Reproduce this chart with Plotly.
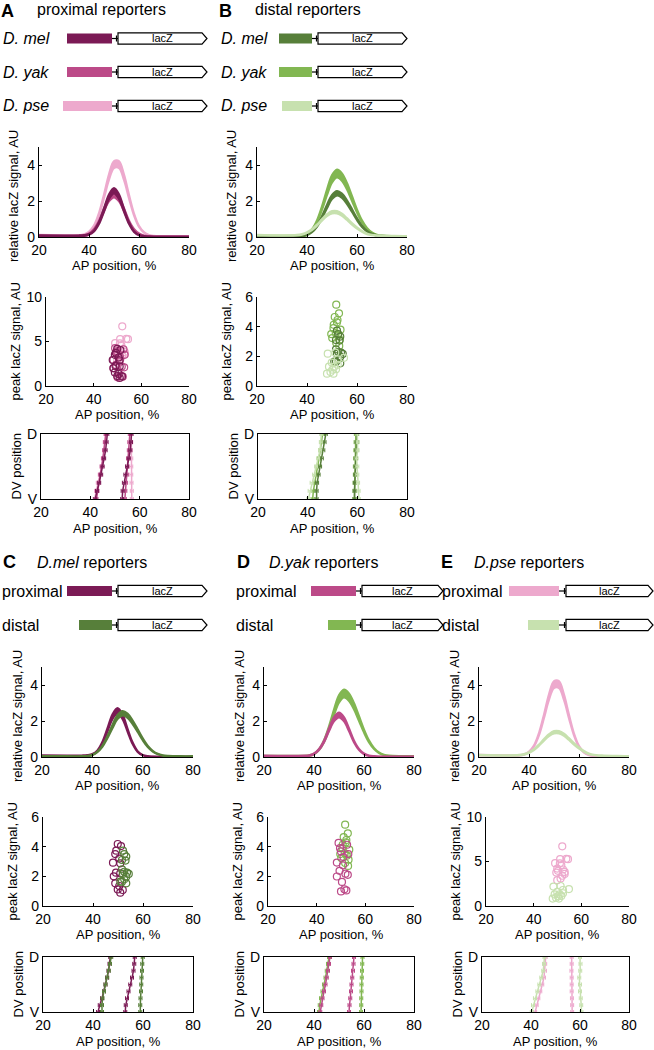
import plotly.graph_objects as go

W, H = 654, 1050
FONT = "Liberation Sans"

COLORS = {
    "mel_p": "#7B1A55", "yak_p": "#BC4A88", "pse_p": "#EDA9CD",
    "mel_d": "#577F3A", "yak_d": "#82B752", "pse_d": "#C7E1AF",
}

# AP profiles of relative lacZ signal (upper / lower edge of each bundle)
AP_X = [20, 30, 36, 38, 40, 42, 44, 46, 48, 50, 52, 54, 56, 58, 60, 62, 64, 66, 68, 70, 75, 80]
mel_p_hi = [0.1, 0.09, 0.09, 0.11, 0.17, 0.37, 0.85, 1.6, 2.38, 2.72, 2.38, 1.58, 0.82, 0.33, 0.12, 0.05, 0.03, 0.02, 0.02, 0.02, 0.02, 0.02]
mel_p_lo = [0.05, 0.05, 0.05, 0.06, 0.12, 0.3, 0.72, 1.4, 2.1, 2.42, 2.1, 1.4, 0.72, 0.28, 0.09, 0.03, 0.01, 0.01, 0.01, 0.01, 0.01, 0.01]
yak_p_hi = [0.08, 0.07, 0.08, 0.1, 0.2, 0.45, 0.92, 1.6, 2.22, 2.47, 2.22, 1.6, 0.92, 0.45, 0.2, 0.09, 0.05, 0.03, 0.03, 0.03, 0.03, 0.03]
yak_p_lo = [0.04, 0.04, 0.04, 0.06, 0.15, 0.38, 0.8, 1.42, 1.98, 2.2, 1.98, 1.42, 0.8, 0.38, 0.15, 0.06, 0.03, 0.01, 0.01, 0.01, 0.01, 0.01]
pse_p_hi = [0.12, 0.1, 0.1, 0.15, 0.3, 0.65, 1.35, 2.38, 3.5, 4.22, 4.22, 3.48, 2.36, 1.32, 0.62, 0.27, 0.12, 0.07, 0.05, 0.05, 0.04, 0.04]
pse_p_lo = [0.08, 0.07, 0.07, 0.12, 0.26, 0.58, 1.2, 2.15, 3.17, 3.83, 3.83, 3.15, 2.13, 1.19, 0.56, 0.24, 0.1, 0.05, 0.03, 0.03, 0.02, 0.02]
mel_d_hi = [0.05, 0.05, 0.05, 0.07, 0.13, 0.3, 0.64, 1.17, 1.8, 2.34, 2.55, 2.41, 2.04, 1.55, 1.05, 0.63, 0.35, 0.18, 0.1, 0.07, 0.05, 0.05]
mel_d_lo = [0.02, 0.02, 0.02, 0.04, 0.1, 0.26, 0.56, 1.04, 1.6, 2.1, 2.3, 2.17, 1.83, 1.39, 0.93, 0.55, 0.3, 0.15, 0.07, 0.04, 0.02, 0.02]
yak_d_hi = [0.07, 0.07, 0.07, 0.1, 0.19, 0.44, 0.94, 1.72, 2.65, 3.44, 3.75, 3.54, 3.0, 2.28, 1.54, 0.93, 0.51, 0.26, 0.13, 0.08, 0.06, 0.06]
yak_d_lo = [0.03, 0.03, 0.03, 0.06, 0.15, 0.38, 0.82, 1.5, 2.32, 3.02, 3.3, 3.11, 2.63, 2.0, 1.35, 0.81, 0.44, 0.22, 0.1, 0.05, 0.03, 0.03]
pse_d_hi = [0.12, 0.1, 0.12, 0.17, 0.27, 0.44, 0.7, 1.0, 1.27, 1.44, 1.44, 1.3, 1.05, 0.78, 0.54, 0.34, 0.2, 0.13, 0.1, 0.09, 0.07, 0.06]
pse_d_lo = [0.08, 0.07, 0.08, 0.12, 0.22, 0.38, 0.62, 0.9, 1.15, 1.3, 1.3, 1.17, 0.94, 0.68, 0.46, 0.28, 0.15, 0.09, 0.06, 0.05, 0.04, 0.04]

# peak lacZ signal per embryo: AP position and height
mel_p_x = [49.9, 51.2, 49.3, 48.9, 50.5, 48.0, 50.9, 49.2, 48.3, 50.9, 48.9, 50.5, 49.9, 50.9, 51.9]
mel_p_y = [4.18, 4.04, 3.73, 3.5, 3.2, 2.92, 2.88, 2.25, 2.0, 2.2, 1.53, 1.35, 1.12, 0.9, 1.08]
mel_d_x = [52.0, 52.5, 53.3, 51.6, 53.0, 51.6, 52.5, 53.6, 52.0, 53.3, 52.5, 51.6, 53.3, 54.3, 50.9]
mel_d_y = [3.73, 3.5, 3.33, 3.1, 3.06, 2.47, 2.31, 2.25, 2.16, 1.98, 1.8, 1.64, 1.53, 2.16, 1.64]
yak_p_x = [49.0, 52.5, 50.0, 48.3, 50.8, 49.4, 51.8, 48.3, 52.8, 50.4, 51.4, 50.0, 52.2, 51.0, 53.0, 49.6]
yak_p_y = [4.25, 4.13, 3.68, 2.93, 2.74, 2.37, 2.18, 1.99, 2.1, 1.62, 1.13, 0.98, 1.05, 3.3, 3.5, 3.9]
yak_d_x = [51.7, 52.8, 51.1, 52.0, 50.7, 49.7, 51.5, 52.4, 50.1, 53.1, 51.7, 53.4, 52.2, 50.6, 52.9]
yak_d_y = [5.48, 4.9, 4.65, 4.29, 4.13, 3.5, 3.57, 3.39, 3.23, 3.12, 2.9, 3.8, 4.45, 3.9, 2.7]
pse_p_x = [52.0, 49.0, 51.1, 54.4, 53.7, 51.6, 49.9, 50.2, 53.0, 49.5, 52.0, 49.9, 53.0, 51.3, 51.0, 52.3]
pse_p_y = [6.7, 4.81, 5.26, 5.26, 5.3, 4.6, 4.2, 3.95, 3.83, 3.76, 3.4, 2.9, 3.6, 3.08, 4.8, 4.1]
pse_d_x = [48.3, 51.3, 52.3, 54.8, 49.9, 48.8, 50.9, 51.6, 49.4, 48.0, 50.6, 52.3, 50.2]
pse_d_y = [2.18, 2.25, 1.8, 1.9, 1.58, 1.3, 1.3, 1.13, 0.94, 0.83, 0.83, 1.43, 1.1]

# stripe borders along the DV axis (D = 1 ... V = 0)
DV_Y = [1.0, 0.875, 0.75, 0.625, 0.5, 0.375, 0.25, 0.125, 0.0]
mel_p_ant = [46.9, 46.6, 46.2, 45.6, 45.0, 44.4, 43.6, 42.7, 42.0]
mel_p_post = [56.7, 56.5, 56.2, 55.6, 54.9, 54.2, 53.6, 53.1, 52.9]
mel_d_ant = [47.3, 46.8, 46.3, 45.7, 45.0, 44.4, 43.8, 43.6, 43.6]
mel_d_post = [59.9, 59.7, 59.6, 59.4, 59.3, 59.2, 59.0, 58.9, 58.9]
yak_p_ant = [46.4, 46.0, 45.6, 45.1, 44.6, 44.0, 43.4, 42.9, 42.5]
yak_p_post = [56.0, 55.8, 55.6, 55.3, 55.0, 54.8, 54.5, 54.2, 54.0]
yak_d_ant = [46.0, 45.6, 45.1, 44.6, 44.0, 43.4, 42.8, 42.3, 42.0]
yak_d_post = [59.4, 59.3, 59.2, 59.1, 59.0, 59.0, 58.9, 58.9, 58.8]
pse_p_ant = [46.0, 45.8, 45.7, 45.3, 44.6, 43.8, 43.0, 42.3, 41.7]
pse_p_post = [56.6, 56.6, 56.5, 56.6, 56.6, 56.6, 56.7, 56.8, 56.8]
pse_d_ant = [45.5, 45.3, 45.0, 44.2, 43.4, 42.6, 41.6, 40.8, 40.3]
pse_d_post = [60.0, 60.2, 60.1, 59.7, 60.0, 60.0, 60.3, 60.5, 60.6]

CURVES = {"mel_p": (mel_p_hi, mel_p_lo), "yak_p": (yak_p_hi, yak_p_lo), "pse_p": (pse_p_hi, pse_p_lo),
          "mel_d": (mel_d_hi, mel_d_lo), "yak_d": (yak_d_hi, yak_d_lo), "pse_d": (pse_d_hi, pse_d_lo)}
PEAKS = {"mel_p": (mel_p_x, mel_p_y), "yak_p": (yak_p_x, yak_p_y), "pse_p": (pse_p_x, pse_p_y),
         "mel_d": (mel_d_x, mel_d_y), "yak_d": (yak_d_x, yak_d_y), "pse_d": (pse_d_x, pse_d_y)}
BORDERS = {"mel_p": (mel_p_ant, mel_p_post), "yak_p": (yak_p_ant, yak_p_post), "pse_p": (pse_p_ant, pse_p_post),
           "mel_d": (mel_d_ant, mel_d_post), "yak_d": (yak_d_ant, yak_d_post), "pse_d": (pse_d_ant, pse_d_post)}

# pixel boxes (x0, x1, top, bottom) of each small axes
PANELS = [
    dict(keys=["pse_p", "yak_p", "mel_p"], curve=(39, 189, 147, 237), peak=(46, 189, 297, 386),
         dv=(41, 189, 434, 499), pmax=10, pticks=[0, 5, 10]),
    dict(keys=["yak_d", "mel_d", "pse_d"], curve=(257, 407, 147, 237), peak=(257, 407, 297, 386),
         dv=(258, 407, 434, 499), pmax=6, pticks=[0, 2, 4, 6]),
    dict(keys=["mel_p", "mel_d"], curve=(42, 193, 667, 757), peak=(43, 193, 817, 906),
         dv=(43, 193, 957, 1012), pmax=6, pticks=[0, 2, 4, 6]),
    dict(keys=["yak_d", "yak_p"], curve=(264, 414, 667, 757), peak=(268, 414, 817, 906),
         dv=(264, 414, 957, 1012), pmax=6, pticks=[0, 2, 4, 6]),
    dict(keys=["pse_p", "pse_d"], curve=(479, 629, 667, 757), peak=(486, 629, 817, 906),
         dv=(482, 629, 957, 1012), pmax=10, pticks=[0, 5, 10]),
]


def px(x):
    return x / W


def py(y):
    return 1 - y / H


fig = go.Figure()
layout = {}
annotations = []
shapes = []


def text(x, y, s, size=13, anchor="center", angle=0):
    annotations.append(dict(x=px(x), y=py(y), xref="paper", yref="paper", text=s, showarrow=False,
                            xanchor=anchor, yanchor="middle", textangle=angle, borderpad=0,
                            font=dict(size=size, color="black", family=FONT)))


def axes(n, box, xr, yr, yticks, box_on=False, yticktext=None):
    x0, x1, top, bottom = box
    base = dict(showline=True, linecolor="black", linewidth=1.3, mirror=box_on, showgrid=False,
                zeroline=False, ticks="inside", ticklen=3, tickcolor="black", automargin=False,
                tickfont=dict(size=14, color="black", family=FONT), fixedrange=True)
    xa = dict(base, domain=[px(x0), px(x1)], range=xr, tickvals=[20, 40, 60, 80],
              anchor="y" if n == 1 else f"y{n}")
    ya = dict(base, domain=[py(bottom), py(top)], range=yr, tickvals=yticks,
              anchor="x" if n == 1 else f"x{n}")
    if yticktext:
        ya.update(ticktext=yticktext, ticks="")
    layout["xaxis" if n == 1 else f"xaxis{n}"] = xa
    layout["yaxis" if n == 1 else f"yaxis{n}"] = ya
    return ("x" if n == 1 else f"x{n}"), ("y" if n == 1 else f"y{n}")


n = 0
for p in PANELS:
    # expression profiles
    n += 1
    xa, ya = axes(n, p["curve"], [20, 80], [0, 5], [0, 2, 4])
    for k in p["keys"]:
        hi, lo = CURVES[k]
        fig.add_trace(go.Scatter(x=AP_X, y=lo, mode="lines", line=dict(color=COLORS[k], width=2, shape="spline"),
                                 xaxis=xa, yaxis=ya, showlegend=False))
        fig.add_trace(go.Scatter(x=AP_X, y=hi, mode="lines", line=dict(color=COLORS[k], width=2, shape="spline"),
                                 fill="tonexty", fillcolor=COLORS[k], xaxis=xa, yaxis=ya, showlegend=False))
    x0, x1, top, bottom = p["curve"]
    text(x0 - 25, (top + bottom) / 2 + 4, "relative lacZ signal, AU", angle=-90)
    text((x0 + x1) / 2, bottom + 28, "AP position, %")

    # peak heights
    n += 1
    xa, ya = axes(n, p["peak"], [20, 80], [0, p["pmax"]], p["pticks"])
    for k in p["keys"]:
        xs, ys = PEAKS[k]
        fig.add_trace(go.Scatter(x=xs, y=ys, mode="markers",
                                 marker=dict(symbol="circle-open", size=7, color=COLORS[k], line=dict(width=1.2)),
                                 xaxis=xa, yaxis=ya, showlegend=False))
    x0, x1, top, bottom = p["peak"]
    text(x0 - 31, (top + bottom) / 2, "peak lacZ signal, AU", angle=-90)
    text((x0 + x1) / 2, bottom + 29, "AP position, %")

    # stripe borders along DV
    n += 1
    xa, ya = axes(n, p["dv"], [20, 80], [0, 1], [0, 1], box_on=True, yticktext=["V", "D"])
    for k in p["keys"]:
        for border in BORDERS[k]:
            fig.add_trace(go.Scatter(x=border, y=DV_Y, mode="lines", line=dict(color=COLORS[k], width=1.5),
                                     error_x=dict(type="constant", value=0.6, color=COLORS[k], thickness=1, width=2),
                                     xaxis=xa, yaxis=ya, showlegend=False))
    x0, x1, top, bottom = p["dv"]
    text(x0 - 25, (top + bottom) / 2, "DV position", angle=-90)
    text((x0 + x1) / 2, bottom + 29, "AP position, %")


def construct(y, bar0, bar1, box0, color, box_w=84):
    shapes.append(dict(type="rect", xref="paper", yref="paper", x0=px(bar0), x1=px(bar1),
                       y0=py(y + 5), y1=py(y - 5), fillcolor=color, line=dict(width=0)))
    shapes.append(dict(type="line", xref="paper", yref="paper", x0=px(bar1), x1=px(box0),
                       y0=py(y), y1=py(y), line=dict(color="black", width=1.2)))
    shapes.append(dict(type="line", xref="paper", yref="paper", x0=px(box0 - 1.5), x1=px(box0 - 1.5),
                       y0=py(y - 3), y1=py(y + 3), line=dict(color="black", width=1.2)))
    path = (f"M {px(box0)},{py(y - 5.7)} L {px(box0 + box_w)},{py(y - 5.7)} L {px(box0 + box_w + 5)},{py(y)} "
            f"L {px(box0 + box_w)},{py(y + 5.7)} L {px(box0)},{py(y + 5.7)} Z")
    shapes.append(dict(type="path", xref="paper", yref="paper", path=path, fillcolor="white",
                       line=dict(color="black", width=1.2)))
    text(box0 + box_w / 2 + 2, y, "lacZ", size=11)


# panel headers
text(0, 11, "<b>A</b>", size=18, anchor="left")
text(36, 10, "proximal reporters", size=16, anchor="left")
text(218, 11, "<b>B</b>", size=18, anchor="left")
text(254, 10, "distal reporters", size=16, anchor="left")
text(2, 562, "<b>C</b>", size=18, anchor="left")
text(36, 562, "<i>D.mel</i> reporters", size=16, anchor="left")
text(236, 562, "<b>D</b>", size=18, anchor="left")
text(268, 562, "<i>D.yak</i> reporters", size=16, anchor="left")
text(440, 562, "<b>E</b>", size=18, anchor="left")
text(473, 562, "<i>D.pse</i> reporters", size=16, anchor="left")

# constructs
for label, y, key, b0 in [("D. mel", 38.5, "mel_p", 67), ("D. yak", 72, "yak_p", 67), ("D. pse", 106, "pse_p", 63)]:
    text(2, y, f"<i>{label}</i>", size=16, anchor="left")
    construct(y, b0, 112, 118, COLORS[key])
for label, y, key, b0 in [("D. mel", 38.5, "mel_d", 279), ("D. yak", 72, "yak_d", 279), ("D. pse", 106, "pse_d", 282)]:
    text(220, y, f"<i>{label}</i>", size=16, anchor="left")
    construct(y, b0, 312, 318, COLORS[key])
for x_lab, bars, box0, box_w, keys in [(1, (67, 79, 112), 118, 84, ("mel_p", "mel_d")),
                                       (235, (311, 328, 356), 362, 76, ("yak_p", "yak_d")),
                                       (441, (509, 528, 559), 566, 82, ("pse_p", "pse_d"))]:
    text(x_lab, 591, "proximal", size=16, anchor="left")
    text(x_lab, 625, "distal", size=16, anchor="left")
    construct(591, bars[0], bars[2], box0, COLORS[keys[0]], box_w)
    construct(625, bars[1], bars[2], box0, COLORS[keys[1]], box_w)

fig.update_layout(width=W, height=H, margin=dict(l=0, r=0, t=0, b=0, autoexpand=False), plot_bgcolor="white",
                  paper_bgcolor="white", font=dict(family=FONT, color="black"),
                  annotations=annotations, shapes=shapes, **layout)
# the page body has a default 8px margin; drop it so the figure sits at the window corner
fig.write_html("out.html", config={"displayModeBar": False},
               post_script="document.body.style.margin='0';document.body.style.overflow='hidden';")
